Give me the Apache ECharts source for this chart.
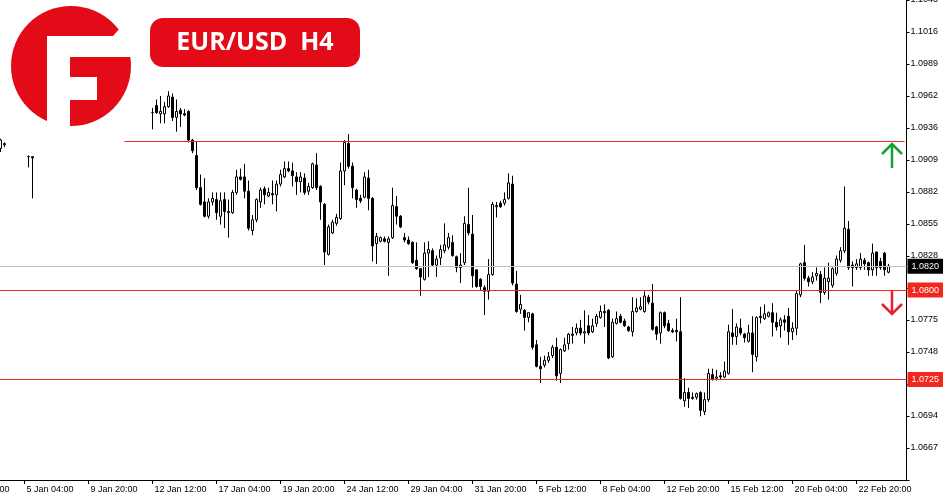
<!DOCTYPE html>
<html>
<head>
<meta charset="utf-8">
<script src="https://cdn.jsdelivr.net/npm/echarts@6.0.0/dist/echarts.min.js"></script>
<style>html,body{margin:0;padding:0;background:#fff;}#chart{width:950px;height:500px;}</style>
</head>
<body>
<div id="chart"></div>
<script>
const _ = null;
const xTickLabels = ['2 Jan 12:00','5 Jan 04:00','9 Jan 20:00','12 Jan 12:00','17 Jan 04:00','19 Jan 20:00','24 Jan 12:00','29 Jan 04:00','31 Jan 20:00','5 Feb 12:00','8 Feb 04:00','12 Feb 20:00','15 Feb 12:00','20 Feb 04:00','22 Feb 20:00'];
const yTickLabels = ['1.0667','1.0694','1.0721','1.0748','1.0775','1.0801','1.0828','1.0855','1.0882','1.0909','1.0936','1.0962','1.0989','1.1016','1.1043'];

const opens = [
 1.0919,1.0922,_,_,_,_,_,1.0912,1.0912,
 _,_,_,_,_,_,_,_,_,_,_,_,_,_,_,_,_,_,_,_,_,_,_,_,_,_,_,_,_,
 1.0949,1.0955,1.0948,1.0948,1.0954,1.0962,1.0945,1.0951,1.0948,1.0950,
 1.0926,1.0913,1.0886,1.0874,1.0862,1.0874,1.0876,1.0862,1.0876,1.0865,
 1.0865,1.0882,1.0895,1.0895,1.0883,1.0850,1.0859,1.0874,1.0885,1.0879,
 1.0881,1.0880,1.0889,1.0895,1.0902,1.0900,1.0895,1.0891,1.0894,1.0883,
 1.0886,1.0905,1.0887,1.0872,1.0830,1.0848,1.0856,1.0860,1.0900,1.0923,
 1.0904,1.0884,1.0877,1.0878,1.0894,1.0877,1.0839,1.0841,1.0843,1.0840,
 1.0844,1.0870,1.0862,1.0844,1.0842,1.0840,1.0825,1.0818,1.0809,1.0831,
 1.0833,1.0821,1.0827,1.0833,1.0836,1.0840,1.0828,1.0819,1.0823,1.0855,
 1.0847,1.0817,1.0809,1.0802,1.0799,1.0813,1.0870,1.0873,1.0873,1.0877,
 1.0889,1.0805,1.0784,1.0783,1.0777,1.0780,1.0754,1.0736,1.0737,1.0741,
 1.0745,1.0752,1.0730,1.0749,1.0755,1.0763,1.0764,1.0768,1.0764,1.0770,
 1.0765,1.0772,1.0777,1.0782,1.0783,1.0744,1.0772,1.0778,1.0774,1.0769,
 1.0765,1.0782,1.0784,1.0782,1.0794,1.0789,1.0769,1.0764,1.0781,1.0772,
 1.0766,1.0766,1.0765,1.0707,1.0714,1.0710,1.0710,1.0714,1.0698,1.0708,
 1.0729,1.0726,1.0728,1.0727,1.0730,1.0764,1.0761,1.0768,1.0763,1.0757,
 1.0764,1.0744,1.0778,1.0776,1.0778,1.0781,1.0773,1.0770,1.0775,1.0778,
 1.0765,1.0768,1.0796,1.0823,1.0810,1.0807,1.0812,1.0813,1.0798,1.0807,
 1.0804,1.0814,1.0825,1.0833,1.0851,1.0821,1.0819,1.0819,1.0825,1.0823,
 1.0817,1.0832,1.0824,1.0831,1.0815
];
const highs = [
 1.0927,1.0924,_,_,_,_,_,1.0913,1.0912,
 _,_,_,_,_,_,_,_,_,_,_,_,_,_,_,_,_,_,_,_,_,_,_,_,_,_,_,_,_,
 1.0953,1.0960,1.0963,1.0958,1.0967,1.0965,1.0960,1.0953,1.0952,1.0951,
 1.0927,1.0925,1.0897,1.0894,1.0877,1.0882,1.0882,1.0882,1.0882,1.0876,
 1.0884,1.0901,1.0902,1.0906,1.0892,1.0863,1.0877,1.0886,1.0887,1.0886,
 1.0892,1.0892,1.0901,1.0908,1.0908,1.0907,1.0899,1.0899,1.0898,1.0890,
 1.0907,1.0915,1.0888,1.0873,1.0855,1.0859,1.0864,1.0907,1.0926,1.0931,
 1.0907,1.0885,1.0880,1.0899,1.0901,1.0878,1.0848,1.0845,1.0845,1.0845,
 1.0886,1.0879,1.0863,1.0848,1.0845,1.0841,1.0840,1.0818,1.0840,1.0841,
 1.0835,1.0829,1.0838,1.0856,1.0848,1.0846,1.0829,1.0831,1.0862,1.0886,
 1.0863,1.0817,1.0810,1.0804,1.0826,1.0874,1.0874,1.0875,1.0882,1.0898,
 1.0896,1.0816,1.0796,1.0784,1.0781,1.0781,1.0758,1.0744,1.0745,1.0748,
 1.0754,1.0760,1.0751,1.0760,1.0764,1.0769,1.0772,1.0775,1.0783,1.0779,
 1.0776,1.0780,1.0787,1.0788,1.0784,1.0776,1.0782,1.0780,1.0776,1.0770,
 1.0794,1.0793,1.0794,1.0799,1.0796,1.0805,1.0770,1.0782,1.0782,1.0775,
 1.0768,1.0776,1.0794,1.0726,1.0718,1.0714,1.0714,1.0715,1.0714,1.0734,
 1.0734,1.0733,1.0731,1.0740,1.0771,1.0784,1.0772,1.0776,1.0764,1.0771,
 1.0778,1.0778,1.0786,1.0788,1.0782,1.0789,1.0781,1.0777,1.0779,1.0785,
 1.0773,1.0800,1.0823,1.0838,1.0812,1.0815,1.0819,1.0816,1.0819,1.0823,
 1.0819,1.0829,1.0836,1.0887,1.0858,1.0824,1.0826,1.0831,1.0827,1.0824,
 1.0839,1.0832,1.0827,1.0832,1.0822
];
const lows = [
 1.0916,1.0920,_,_,_,_,_,1.0903,1.0877,
 _,_,_,_,_,_,_,_,_,_,_,_,_,_,_,_,_,_,_,_,_,_,_,_,_,_,_,_,_,
 1.0935,1.0948,1.0940,1.0940,1.0953,1.0942,1.0933,1.0937,1.0946,1.0924,
 1.0915,1.0884,1.0871,1.0861,1.0860,1.0871,1.0859,1.0855,1.0852,1.0844,
 1.0864,1.0880,1.0892,1.0877,1.0850,1.0846,1.0857,1.0869,1.0872,1.0878,
 1.0872,1.0866,1.0887,1.0894,1.0899,1.0887,1.0880,1.0882,1.0880,1.0880,
 1.0885,1.0884,1.0859,1.0821,1.0829,1.0847,1.0854,1.0859,1.0888,1.0902,
 1.0877,1.0869,1.0873,1.0877,1.0867,1.0824,1.0822,1.0840,1.0840,1.0812,
 1.0843,1.0855,1.0852,1.0840,1.0838,1.0822,1.0817,1.0795,1.0808,1.0811,
 1.0820,1.0811,1.0821,1.0831,1.0834,1.0828,1.0815,1.0806,1.0821,1.0846,
 1.0802,1.0802,1.0800,1.0779,1.0792,1.0812,1.0861,1.0869,1.0871,1.0876,
 1.0804,1.0781,1.0780,1.0766,1.0773,1.0750,1.0735,1.0722,1.0735,1.0739,
 1.0743,1.0724,1.0722,1.0748,1.0750,1.0755,1.0762,1.0762,1.0755,1.0762,
 1.0764,1.0769,1.0776,1.0769,1.0742,1.0743,1.0771,1.0772,1.0769,1.0765,
 1.0761,1.0781,1.0783,1.0781,1.0788,1.0766,1.0758,1.0755,1.0768,1.0765,
 1.0764,1.0757,1.0708,1.0702,1.0701,1.0708,1.0708,1.0694,1.0695,1.0706,
 1.0724,1.0724,1.0725,1.0726,1.0729,1.0754,1.0754,1.0762,1.0756,1.0756,
 1.0731,1.0740,1.0772,1.0775,1.0777,1.0761,1.0766,1.0760,1.0766,1.0754,
 1.0758,1.0762,1.0794,1.0808,1.0803,1.0805,1.0808,1.0789,1.0796,1.0792,
 1.0802,1.0812,1.0823,1.0831,1.0817,1.0803,1.0817,1.0817,1.0817,1.0812,
 1.0812,1.0812,1.0817,1.0812,1.0814
];
const closes = [
 1.0926,1.0923,_,_,_,_,_,1.0912,1.0911,
 _,_,_,_,_,_,_,_,_,_,_,_,_,_,_,_,_,_,_,_,_,_,_,_,_,_,_,_,_,
 1.0949,1.0949,1.0950,1.0954,1.0963,1.0945,1.0950,1.0948,1.0947,1.0926,
 1.0917,1.0886,1.0872,1.0862,1.0874,1.0877,1.0865,1.0875,1.0866,1.0866,
 1.0882,1.0895,1.0893,1.0883,1.0852,1.0859,1.0876,1.0884,1.0880,1.0882,
 1.0880,1.0889,1.0897,1.0902,1.0900,1.0896,1.0891,1.0895,1.0882,1.0887,
 1.0906,1.0886,1.0874,1.0832,1.0853,1.0857,1.0861,1.0900,1.0924,1.0904,
 1.0886,1.0876,1.0875,1.0895,1.0877,1.0837,1.0845,1.0844,1.0841,1.0843,
 1.0871,1.0862,1.0853,1.0842,1.0839,1.0823,1.0818,1.0811,1.0831,1.0834,
 1.0821,1.0826,1.0834,1.0838,1.0844,1.0829,1.0819,1.0821,1.0856,1.0848,
 1.0812,1.0803,1.0803,1.0799,1.0813,1.0872,1.0871,1.0870,1.0876,1.0890,
 1.0806,1.0782,1.0788,1.0777,1.0781,1.0752,1.0736,1.0734,1.0741,1.0744,
 1.0752,1.0728,1.0750,1.0754,1.0763,1.0762,1.0768,1.0764,1.0765,1.0764,
 1.0770,1.0778,1.0782,1.0781,1.0743,1.0773,1.0776,1.0773,1.0770,1.0766,
 1.0782,1.0785,1.0786,1.0795,1.0790,1.0767,1.0763,1.0781,1.0770,1.0766,
 1.0765,1.0765,1.0709,1.0714,1.0709,1.0709,1.0713,1.0699,1.0708,1.0730,
 1.0725,1.0727,1.0727,1.0732,1.0765,1.0761,1.0769,1.0764,1.0760,1.0764,
 1.0746,1.0777,1.0777,1.0780,1.0781,1.0773,1.0769,1.0775,1.0773,1.0765,
 1.0768,1.0797,1.0822,1.0810,1.0807,1.0811,1.0814,1.0798,1.0810,1.0810,
 1.0818,1.0826,1.0833,1.0852,1.0819,1.0819,1.0822,1.0826,1.0822,1.0817,
 1.0831,1.0819,1.0819,1.0817,1.0820
];

const lastPrice = 1.0820;
const supportLevels = [1.0800, 1.0725];
const resistanceLevel = 1.0925;
const resistanceStartBar = 31;

const PRE = 10, POST = 4, TICK_EVERY = 16, Y_STEP = 0.002687;
const total = PRE + opens.length + POST;
const categories = [];
for (let i = 0; i < total; i++) categories.push('b' + i);
const candles = [];
opens.forEach(function (o, j) {
  if (o === null) return;
  candles.push([PRE + j, o, closes[j], lows[j], highs[j]]);
});

const RED = '#e30b17', LINE_RED = '#f0281e', GREEN = '#13a02c';
const FONT = '"Liberation Sans", Arial, sans-serif';

function boxLabel(v, bg) {
  return { show: true, position: 'end', formatter: v.toFixed(4), backgroundColor: bg, color: '#fff',
    fontSize: 9, fontFamily: FONT, padding: [3, 4, 2, 4], lineHeight: 10, distance: 1 };
}

const chart = echarts.init(document.getElementById('chart'), null, { renderer: 'canvas' });
chart.setOption({
  animation: false,
  backgroundColor: '#fff',
  grid: { left: -41.5, right: 43.5, top: 0, bottom: 20, containLabel: false, outerBoundsMode: 'none' },
  xAxis: {
    type: 'category', data: categories, boundaryGap: true,
    axisLine: { show: true, onZero: false, lineStyle: { color: '#000', width: 1 } },
    axisTick: { show: true, alignWithLabel: true, length: 4, interval: function (i) { return i % TICK_EVERY === 0; }, lineStyle: { color: '#000' } },
    axisLabel: { show: true, interval: function (i) { return i % TICK_EVERY === 0; },
      formatter: function (v, i) { return xTickLabels[i / TICK_EVERY] || ''; },
      align: 'left', color: '#000', fontSize: 9, fontFamily: FONT, margin: 5, padding: [0, 0, 0, 2], hideOverlap: false },
    splitLine: { show: false }
  },
  yAxis: {
    type: 'value', position: 'right',
    min: 396 * Y_STEP, max: 411 * Y_STEP, interval: Y_STEP,
    axisLine: { show: true, lineStyle: { color: '#000', width: 1 } },
    axisTick: { show: true, inside: false, length: 3, lineStyle: { color: '#000' } },
    axisLabel: { color: '#000', fontSize: 9, fontFamily: FONT, margin: 4, hideOverlap: false,
      formatter: function (v) {
        for (let k = 0; k < yTickLabels.length; k++) {
          if (Math.abs(parseFloat(yTickLabels[k]) - v) < Y_STEP / 2) return yTickLabels[k];
        }
        return '';
      } },
    splitLine: { show: false }
  },
  series: [{
    type: 'candlestick',
    data: candles,
    encode: { x: 0, y: [1, 2, 3, 4] },
    barWidth: 2,
    silent: true,
    itemStyle: { color: '#fff', color0: '#000', borderColor: '#000', borderColor0: '#000', borderColorDoji: '#000', borderWidth: 1 },
    markLine: {
      symbol: ['none', 'none'], silent: true, animation: false, precision: 4,
      data: [
        { yAxis: lastPrice, lineStyle: { color: '#c0c0c0', width: 1, type: 'solid' }, label: boxLabel(lastPrice, '#000') },
        { yAxis: supportLevels[0], lineStyle: { color: LINE_RED, width: 1, type: 'solid' }, label: boxLabel(supportLevels[0], LINE_RED) },
        { yAxis: supportLevels[1], lineStyle: { color: LINE_RED, width: 1, type: 'solid' }, label: boxLabel(supportLevels[1], LINE_RED) },
        [
          { coord: ['b' + (PRE + resistanceStartBar), resistanceLevel], lineStyle: { color: LINE_RED, width: 1, type: 'solid' }, label: { show: false } },
          { coord: ['b' + (total - 1), resistanceLevel] }
        ]
      ]
    }
  }],
  graphic: [
    { type: 'circle', z: 100, shape: { cx: 71, cy: 66, r: 60 }, style: { fill: RED } },
    { type: 'polygon', z: 101, shape: { points: [[47,36],[113,36],[121,27],[140,27],[140,57],[70,57],[70,140],[47,140]] }, style: { fill: '#fff' } },
    { type: 'rect', z: 101, shape: { x: 70, y: 77, width: 27, height: 23 }, style: { fill: '#fff' } },
    { type: 'rect', z: 100, shape: { x: 150, y: 18, width: 210, height: 49, r: 13 }, style: { fill: RED } },
    { type: 'text', z: 102, x: 255, y: 43, style: { text: 'EUR/USD  H4', fill: '#fff', font: 'bold 25px "Open Sans", Roboto, sans-serif', align: 'center', verticalAlign: 'middle' } },
    { type: 'polyline', z: 100, shape: { points: [[892,168],[892,144]] }, style: { stroke: GREEN, lineWidth: 2.5, fill: null } },
    { type: 'polyline', z: 100, shape: { points: [[882,154],[892,144],[902,154]] }, style: { stroke: GREEN, lineWidth: 2.5, fill: null } },
    { type: 'polyline', z: 100, shape: { points: [[892,291],[892,314]] }, style: { stroke: '#e8202a', lineWidth: 2.5, fill: null } },
    { type: 'polyline', z: 100, shape: { points: [[882,304],[892,314],[902,304]] }, style: { stroke: '#e8202a', lineWidth: 2.5, fill: null } }
  ]
});
</script>
</body>
</html>
